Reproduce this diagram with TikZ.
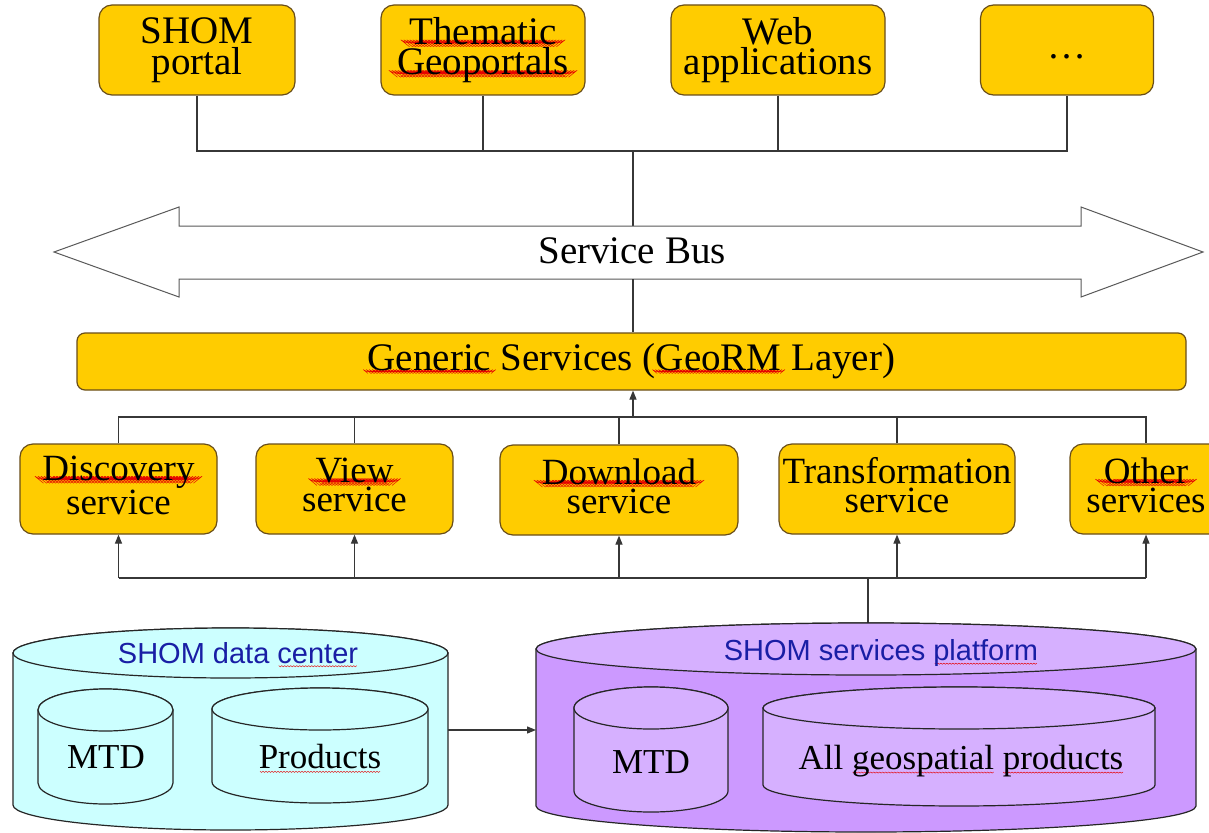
\documentclass[tikz,border=0pt]{standalone}
\usepackage{fontspec}
\setmainfont{Liberation Serif}
\newfontfamily\arialfont{Liberation Sans}
\usetikzlibrary{arrows.meta}
\definecolor{gold}{RGB}{255,204,0}
\definecolor{goldedge}{RGB}{105,78,25}
\definecolor{cyanfill}{RGB}{204,255,255}
\definecolor{purpside}{RGB}{204,153,255}
\definecolor{purptop}{RGB}{214,176,255}
\definecolor{labelblue}{RGB}{25,30,165}
\definecolor{wirecol}{RGB}{55,55,55}
\newsavebox\sqbox
\newcommand\squig[1]{\sbox\sqbox{#1}\rlap{\hbox to \wd\sqbox{\cleaders\hbox{\tikz[baseline=0pt,x=1pt,y=1pt]{\useasboundingbox (0,0) rectangle (3,-1);\draw[red!90!black,line width=0.45pt] (0,-2.6) -- (1.5,-3.8) -- (3,-2.6);}}\hfill}}\usebox\sqbox}
\newcommand\drawcyl[7]{%
  \path[cyledge,fill=#6] ({#1-#2},#3) -- ({#1-#2},#4) arc[start angle=180,end angle=360,x radius=#2pt,y radius=#5pt] -- ({#1+#2},#3) arc[start angle=0,end angle=180,x radius=#2pt,y radius=#5pt] -- cycle;
  \path[cyledge,fill=#7] (#1,#3) ellipse[x radius=#2pt,y radius=#5pt];}
\begin{document}
\begin{tikzpicture}[x=1pt,y=-1pt,
  box/.style={draw=goldedge,line width=1.2pt,fill=gold,rounded corners=13pt,inner sep=0pt,align=center,text=black},
  topbox/.style={box,font=\fontsize{39}{30.5}\selectfont,minimum height=90pt},
  svcbox/.style={box,font=\fontsize{37}{29}\selectfont,minimum height=90pt},
  wire/.style={draw=wirecol,line width=1.2pt},
  arr/.style={wire,-{Triangle[length=9pt,width=7pt]}},
  cyledge/.style={draw=black!85,line width=1.2pt},
  cyltext/.style={font=\fontsize{35}{35}\selectfont,text=black,inner sep=0pt},
  bluelabel/.style={font=\arialfont\fontsize{29}{29}\selectfont,text=labelblue,inner sep=0pt}]
\useasboundingbox (0,0) rectangle (1209,832);
\fill[white] (0,0) rectangle (1209,832);

% top applications
\node[topbox,minimum width=196pt] (shom) at (197,50) {SHOM\\portal};
\node[topbox,minimum width=204pt] (them) at (483,50) {\squig{Thematic}\\\squig{Geoportals}};
\node[topbox,minimum width=214pt] (web) at (778,50) {Web\\applications};
\node[topbox,minimum width=173pt,text height=26pt,text depth=8pt] (dots) at (1067,50) {…};

\coordinate (hub) at (633,151);
\coordinate (bustop) at (633,226);
\coordinate (busbot) at (633,279);
\draw[wire] (shom.south) |- (hub) -| (dots.south);
\draw[wire] (them.south) -- (them.south |- hub);
\draw[wire] (web.south) -- (web.south |- hub);
\draw[wire] (hub) -- (bustop);

% service bus
\draw[draw=black!65,line width=1pt,fill=white] (54,252) -- (179,207) -- (179,226) -- (1081,226) -- (1081,207) -- (1203,252) -- (1081,297) -- (1081,279) -- (179,279) -- (179,297) -- cycle;
\node[font=\fontsize{39}{39}\selectfont,inner sep=0pt] (bus) at (632,251) {Service Bus};

% generic services
\node[box,rounded corners=8pt,minimum width=1109pt,minimum height=57pt,font=\fontsize{39}{39}\selectfont] (gen) at (631.5,361.5) {\squig{Generic} Services (\squig{GeoRM} Layer)};
\draw[wire] (busbot) -- (busbot |- gen.north);

% services
\node[svcbox,minimum width=197pt] (disc) at (118.5,489) {\squig{Discovery}\\service\vphantom{p}};
\node[svcbox,minimum width=197pt] (view) at (354.5,489) {\squig{View}\\service\vphantom{p}};
\node[svcbox,minimum width=238pt] (down) at (619,490) {\squig{Download}\\service\vphantom{p}};
\node[svcbox,minimum width=236pt] (trans) at (897,489) {Transformation\\service\vphantom{p}};
\node[svcbox,minimum width=152pt] (other) at (1146,489) {\squig{Other}\\services\vphantom{p}};

\coordinate (upj) at (633,417);
\draw[wire] (disc.north) |- (upj) -| (other.north);
\draw[wire] (view.north) -- (view.north |- upj);
\draw[wire] (down.north) -- (down.north |- upj);
\draw[wire] (trans.north) -- (trans.north |- upj);
\draw[arr] (upj) -- (upj |- gen.south);

\coordinate (lowj) at (868,578);
\coordinate (pltop) at (868,623);
\draw[wire] (disc.south |- lowj) -- (other.south |- lowj);
\foreach \n in {disc,view,down,trans,other}
  \draw[arr] (\n.south |- lowj) -- (\n.south);
\draw[wire] (pltop) -- (lowj);

% data center cylinder
\drawcyl{230.5}{217.5}{653}{805}{25}{cyanfill}{cyanfill}
\drawcyl{105.5}{67.5}{710}{783}{21}{cyanfill}{cyanfill}
\drawcyl{320}{108}{709}{782}{21}{cyanfill}{cyanfill}
\node[bluelabel] (dclab) at (238,653) {SHOM data \squig{center}};
\node[cyltext] (dcmtd) at (106,757) {MTD};
\node[cyltext] (dcprod) at (320,757) {\squig{Products}};

% services platform cylinder
\drawcyl{866}{330}{649}{806}{26}{purpside}{purptop}
\drawcyl{651}{77}{708}{791}{21}{purptop}{purptop}
\drawcyl{959}{196}{708}{785}{21}{purptop}{purptop}
\node[bluelabel] (pllab) at (881,653) {SHOM services \squig{platform}};
\node[cyltext] (plmtd) at (651,762) {MTD};
\node[cyltext] (plall) at (961,761) {All \squig{geospatial} \squig{products}};

\coordinate (dcright) at (448,730);
\coordinate (plleft) at (536,730);
\draw[arr] (dcright) -- (plleft);
\end{tikzpicture}
\end{document}
